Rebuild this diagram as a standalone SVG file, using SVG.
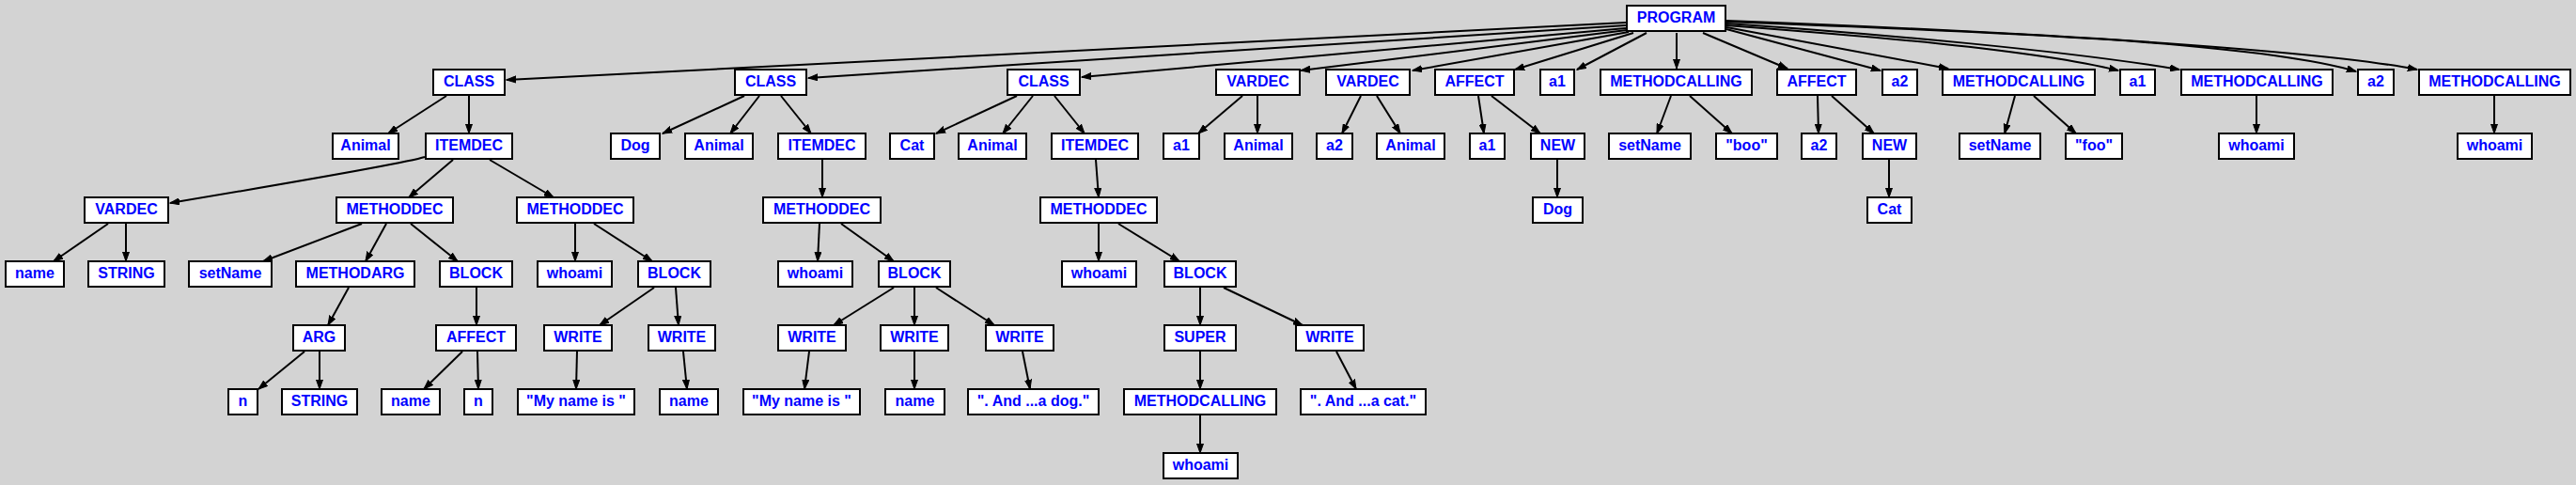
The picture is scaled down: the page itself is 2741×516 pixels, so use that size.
<svg xmlns="http://www.w3.org/2000/svg" width="2741" height="516" viewBox="0 0 2741 516">
<style>
.n rect{fill:#fff;stroke:#000;stroke-width:2}
.n text{font-family:"Liberation Sans",Arial,sans-serif;font-weight:bold;font-size:16px;fill:#0000ff;text-anchor:middle}
#edges path{fill:none;stroke:#000;stroke-width:2;marker-end:url(#ah)}
</style>
<defs>
<marker id="ah" markerUnits="userSpaceOnUse" markerWidth="11" markerHeight="8" viewBox="0 0 11 8" refX="10" refY="4" orient="auto">
<path d="M0,0.5 L10,4 L0,7.5 z" fill="#000" stroke="#000" stroke-width="1"/>
</marker>
</defs>
<rect x="0" y="0" width="2741" height="516" fill="#d3d3d3"/>
<g id="edges">
<path d="M1730,24 L539,85"/>
<path d="M1730,27 L860,83"/>
<path d="M1730,30 L1151,82"/>
<path d="M1731,32 L1384,75"/>
<path d="M1733,34 L1503,75"/>
<path d="M1738,35 L1612,74"/>
<path d="M1752,35 L1678,74"/>
<path d="M1784,35 L1784,73"/>
<path d="M1812,35 L1902,73"/>
<path d="M1837,31 L2001,75"/>
<path d="M1837,29 L2073,73"/>
<path d="M1837,27 C1980,38 2160,52 2254,75"/>
<path d="M1837,25 C2000,36 2200,54 2319,74"/>
<path d="M1837,23 C2100,33 2400,44 2507,76"/>
<path d="M1837,22 C2100,32 2450,50 2572,74"/>
<path d="M475,102 L413,142"/>
<path d="M499,102 L499,142"/>
<path d="M452,167 C430,174 300,196 181,216"/>
<path d="M482,170 L435,210"/>
<path d="M521,170 L589,210"/>
<path d="M115,238 L57,278"/>
<path d="M134,238 L134,278"/>
<path d="M385,238 L280,278"/>
<path d="M411,238 L389,278"/>
<path d="M437,238 L487,278"/>
<path d="M612,238 L612,278"/>
<path d="M632,238 L694,278"/>
<path d="M371,306 L349,346"/>
<path d="M507,306 L507,346"/>
<path d="M696,306 L638,346"/>
<path d="M719,306 L722,346"/>
<path d="M324,374 L275,414"/>
<path d="M340,374 L340,414"/>
<path d="M492,374 L451,414"/>
<path d="M508,374 L509,414"/>
<path d="M614,374 L613,414"/>
<path d="M727,374 L731,414"/>
<path d="M792,102 L705,142"/>
<path d="M808,102 L777,142"/>
<path d="M831,102 L863,142"/>
<path d="M875,170 L875,210"/>
<path d="M872,238 L870,278"/>
<path d="M895,238 L951,278"/>
<path d="M951,306 L887,346"/>
<path d="M973,306 L973,346"/>
<path d="M996,306 L1058,346"/>
<path d="M861,374 L856,414"/>
<path d="M973,374 L973,414"/>
<path d="M1088,374 L1096,414"/>
<path d="M1082,102 L996,142"/>
<path d="M1099,102 L1067,142"/>
<path d="M1122,102 L1154,142"/>
<path d="M1166,170 L1169,210"/>
<path d="M1169,238 L1169,278"/>
<path d="M1190,238 L1255,278"/>
<path d="M1277,306 L1277,346"/>
<path d="M1302,306 L1386,346"/>
<path d="M1277,374 L1277,414"/>
<path d="M1277,442 L1277,482"/>
<path d="M1422,374 L1443,414"/>
<path d="M1322,102 L1275,142"/>
<path d="M1338,102 L1338,142"/>
<path d="M1448,102 L1428,142"/>
<path d="M1465,102 L1490,142"/>
<path d="M1573,102 L1579,142"/>
<path d="M1587,102 L1639,142"/>
<path d="M1657,170 L1657,210"/>
<path d="M1778,102 L1763,142"/>
<path d="M1798,102 L1843,142"/>
<path d="M1934,102 L1935,142"/>
<path d="M1949,102 L1994,142"/>
<path d="M2010,170 L2010,210"/>
<path d="M2144,102 L2133,142"/>
<path d="M2164,102 L2209,142"/>
<path d="M2401,102 L2401,142"/>
<path d="M2654,102 L2654,142"/>
</g>
<g id="program" class="n"><rect x="1731" y="6" width="105" height="27"/><text x="1783.5" y="24">PROGRAM</text></g>
<g id="class1" class="n"><rect x="461" y="74" width="76" height="27"/><text x="499" y="92">CLASS</text></g>
<g id="class2" class="n"><rect x="782" y="74" width="76" height="27"/><text x="820" y="92">CLASS</text></g>
<g id="class3" class="n"><rect x="1072" y="74" width="77" height="27"/><text x="1110.5" y="92">CLASS</text></g>
<g id="vardec1" class="n"><rect x="1294" y="74" width="89" height="27"/><text x="1338.5" y="92">VARDEC</text></g>
<g id="vardec2" class="n"><rect x="1411" y="74" width="89" height="27"/><text x="1455.5" y="92">VARDEC</text></g>
<g id="affect1" class="n"><rect x="1527" y="74" width="84" height="27"/><text x="1569" y="92">AFFECT</text></g>
<g id="a1_top1" class="n"><rect x="1639" y="74" width="36" height="27"/><text x="1657" y="92">a1</text></g>
<g id="mc1" class="n"><rect x="1703" y="74" width="161" height="27"/><text x="1783.5" y="92">METHODCALLING</text></g>
<g id="affect2" class="n"><rect x="1891" y="74" width="84" height="27"/><text x="1933" y="92">AFFECT</text></g>
<g id="a2_top1" class="n"><rect x="2003" y="74" width="37" height="27"/><text x="2021.5" y="92">a2</text></g>
<g id="mc2" class="n"><rect x="2067" y="74" width="162" height="27"/><text x="2148" y="92">METHODCALLING</text></g>
<g id="a1_top2" class="n"><rect x="2256" y="74" width="37" height="27"/><text x="2274.5" y="92">a1</text></g>
<g id="mc3" class="n"><rect x="2321" y="74" width="161" height="27"/><text x="2401.5" y="92">METHODCALLING</text></g>
<g id="a2_top2" class="n"><rect x="2509" y="74" width="38" height="27"/><text x="2528" y="92">a2</text></g>
<g id="mc4" class="n"><rect x="2574" y="74" width="161" height="27"/><text x="2654.5" y="92">METHODCALLING</text></g>
<g id="animal1" class="n"><rect x="354" y="142" width="70" height="27"/><text x="389" y="160">Animal</text></g>
<g id="itemdec1" class="n"><rect x="453" y="142" width="92" height="27"/><text x="499" y="160">ITEMDEC</text></g>
<g id="dog1" class="n"><rect x="650" y="142" width="52" height="27"/><text x="676" y="160">Dog</text></g>
<g id="animal2" class="n"><rect x="729" y="142" width="72" height="27"/><text x="765" y="160">Animal</text></g>
<g id="itemdec2" class="n"><rect x="828" y="142" width="93" height="27"/><text x="874.5" y="160">ITEMDEC</text></g>
<g id="cat1" class="n"><rect x="947" y="142" width="47" height="27"/><text x="970.5" y="160">Cat</text></g>
<g id="animal3" class="n"><rect x="1020" y="142" width="72" height="27"/><text x="1056" y="160">Animal</text></g>
<g id="itemdec3" class="n"><rect x="1119" y="142" width="92" height="27"/><text x="1165" y="160">ITEMDEC</text></g>
<g id="a1_v" class="n"><rect x="1238" y="142" width="38" height="27"/><text x="1257" y="160">a1</text></g>
<g id="animal4" class="n"><rect x="1303" y="142" width="72" height="27"/><text x="1339" y="160">Animal</text></g>
<g id="a2_v" class="n"><rect x="1401" y="142" width="38" height="27"/><text x="1420" y="160">a2</text></g>
<g id="animal5" class="n"><rect x="1465" y="142" width="72" height="27"/><text x="1501" y="160">Animal</text></g>
<g id="a1_aff" class="n"><rect x="1564" y="142" width="37" height="27"/><text x="1582.5" y="160">a1</text></g>
<g id="new1" class="n"><rect x="1629" y="142" width="57" height="27"/><text x="1657.5" y="160">NEW</text></g>
<g id="setname1" class="n"><rect x="1712" y="142" width="87" height="27"/><text x="1755.5" y="160">setName</text></g>
<g id="boo" class="n"><rect x="1826" y="142" width="65" height="27"/><text x="1858.5" y="160">"boo"</text></g>
<g id="a2_aff" class="n"><rect x="1917" y="142" width="37" height="27"/><text x="1935.5" y="160">a2</text></g>
<g id="new2" class="n"><rect x="1982" y="142" width="57" height="27"/><text x="2010.5" y="160">NEW</text></g>
<g id="setname2" class="n"><rect x="2085" y="142" width="86" height="27"/><text x="2128" y="160">setName</text></g>
<g id="foo" class="n"><rect x="2198" y="142" width="60" height="27"/><text x="2228" y="160">"foo"</text></g>
<g id="whoami_mc3" class="n"><rect x="2361" y="142" width="80" height="27"/><text x="2401" y="160">whoami</text></g>
<g id="whoami_mc4" class="n"><rect x="2615" y="142" width="79" height="27"/><text x="2654.5" y="160">whoami</text></g>
<g id="vardec3" class="n"><rect x="90" y="210" width="89" height="27"/><text x="134.5" y="228">VARDEC</text></g>
<g id="methoddec1" class="n"><rect x="358" y="210" width="124" height="27"/><text x="420" y="228">METHODDEC</text></g>
<g id="methoddec2" class="n"><rect x="550" y="210" width="124" height="27"/><text x="612" y="228">METHODDEC</text></g>
<g id="methoddec3" class="n"><rect x="812" y="210" width="125" height="27"/><text x="874.5" y="228">METHODDEC</text></g>
<g id="methoddec4" class="n"><rect x="1107" y="210" width="124" height="27"/><text x="1169" y="228">METHODDEC</text></g>
<g id="dog2" class="n"><rect x="1631" y="210" width="53" height="27"/><text x="1657.5" y="228">Dog</text></g>
<g id="cat2" class="n"><rect x="1987" y="210" width="47" height="27"/><text x="2010.5" y="228">Cat</text></g>
<g id="name1" class="n"><rect x="6" y="278" width="62" height="27"/><text x="37" y="296">name</text></g>
<g id="string1" class="n"><rect x="94" y="278" width="81" height="27"/><text x="134.5" y="296">STRING</text></g>
<g id="setname3" class="n"><rect x="201" y="278" width="88" height="27"/><text x="245" y="296">setName</text></g>
<g id="methodarg" class="n"><rect x="315" y="278" width="126" height="27"/><text x="378" y="296">METHODARG</text></g>
<g id="block1" class="n"><rect x="468" y="278" width="77" height="27"/><text x="506.5" y="296">BLOCK</text></g>
<g id="whoami1" class="n"><rect x="572" y="278" width="79" height="27"/><text x="611.5" y="296">whoami</text></g>
<g id="block2" class="n"><rect x="679" y="278" width="77" height="27"/><text x="717.5" y="296">BLOCK</text></g>
<g id="whoami2" class="n"><rect x="828" y="278" width="79" height="27"/><text x="867.5" y="296">whoami</text></g>
<g id="block3" class="n"><rect x="935" y="278" width="76" height="27"/><text x="973" y="296">BLOCK</text></g>
<g id="whoami3" class="n"><rect x="1130" y="278" width="79" height="27"/><text x="1169.5" y="296">whoami</text></g>
<g id="block4" class="n"><rect x="1239" y="278" width="76" height="27"/><text x="1277" y="296">BLOCK</text></g>
<g id="arg" class="n"><rect x="312" y="346" width="55" height="27"/><text x="339.5" y="364">ARG</text></g>
<g id="affect3" class="n"><rect x="464" y="346" width="85" height="27"/><text x="506.5" y="364">AFFECT</text></g>
<g id="write1" class="n"><rect x="579" y="346" width="72" height="27"/><text x="615" y="364">WRITE</text></g>
<g id="write2" class="n"><rect x="690" y="346" width="71" height="27"/><text x="725.5" y="364">WRITE</text></g>
<g id="write3" class="n"><rect x="828" y="346" width="72" height="27"/><text x="864" y="364">WRITE</text></g>
<g id="write4" class="n"><rect x="937" y="346" width="72" height="27"/><text x="973" y="364">WRITE</text></g>
<g id="write5" class="n"><rect x="1049" y="346" width="72" height="27"/><text x="1085" y="364">WRITE</text></g>
<g id="super" class="n"><rect x="1239" y="346" width="76" height="27"/><text x="1277" y="364">SUPER</text></g>
<g id="write6" class="n"><rect x="1379" y="346" width="72" height="27"/><text x="1415" y="364">WRITE</text></g>
<g id="n1" class="n"><rect x="243" y="414" width="31" height="27"/><text x="258.5" y="432">n</text></g>
<g id="string2" class="n"><rect x="300" y="414" width="80" height="27"/><text x="340" y="432">STRING</text></g>
<g id="name2" class="n"><rect x="406" y="414" width="62" height="27"/><text x="437" y="432">name</text></g>
<g id="n2" class="n"><rect x="494" y="414" width="30" height="27"/><text x="509" y="432">n</text></g>
<g id="str_myname1" class="n"><rect x="551" y="414" width="124" height="27"/><text x="613" y="432">"My name is "</text></g>
<g id="name3" class="n"><rect x="702" y="414" width="62" height="27"/><text x="733" y="432">name</text></g>
<g id="str_myname2" class="n"><rect x="791" y="414" width="124" height="27"/><text x="853" y="432">"My name is "</text></g>
<g id="name4" class="n"><rect x="942" y="414" width="63" height="27"/><text x="973.5" y="432">name</text></g>
<g id="str_dog" class="n"><rect x="1030" y="414" width="139" height="27"/><text x="1099.5" y="432">". And ...a dog."</text></g>
<g id="mc5" class="n"><rect x="1196" y="414" width="162" height="27"/><text x="1277" y="432">METHODCALLING</text></g>
<g id="str_cat" class="n"><rect x="1384" y="414" width="133" height="27"/><text x="1450.5" y="432">". And ...a cat."</text></g>
<g id="whoami4" class="n"><rect x="1238" y="482" width="79" height="27"/><text x="1277.5" y="500">whoami</text></g>
</svg>
